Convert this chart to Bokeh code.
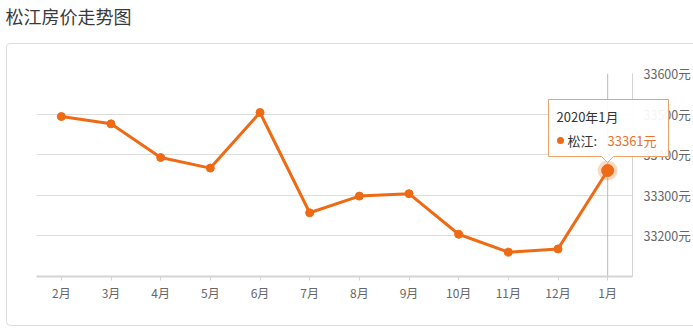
from bokeh.plotting import figure
from bokeh.models import Range1d, LinearAxis, FixedTicker, ColumnDataSource
from bokeh.core.properties import value
from bokeh.embed import file_html
from bokeh.resources import INLINE

title_text = "松江房价走势图"
months = ["2月", "3月", "4月", "5月", "6月", "7月", "8月", "9月", "10月", "11月", "12月", "1月"]
prices = [33494, 33476, 33393, 33367, 33504, 33257, 33298, 33304, 33204, 33160, 33168, 33361]
y_ticks = [33200, 33300, 33400, 33500, 33600]
y_tick_labels = ["33200元", "33300元", "33400元", "33500元", "33600元"]
series_name = "松江"
tip_title = "2020年1月"
tip_value = "33361元"

FONT = "Noto Sans CJK SC"
ORANGE = "#ee6a14"

W, H = 693, 330
FL, FR, FT, FB = 36, 632, 73, 276          # frame box in canvas pixels
XR = (-0.5, len(months) - 0.5)
YR = (33100, 33600)

idx = list(range(len(months)))

p = figure(width=W, height=H, output_backend="svg", toolbar_location=None,
           x_range=Range1d(*XR), y_range=Range1d(*YR),
           min_border_left=FL, min_border_right=W - FR, min_border_top=FT, min_border_bottom=H - FB,
           y_axis_location=None)
p.outline_line_color = None
p.background_fill_color = "white"
p.border_fill_color = "white"

# helpers: canvas pixel -> data (for decorations outside the data area)
def dx(px):
    return XR[0] + (px - FL) / (FR - FL) * (XR[1] - XR[0])

def dy(py):
    return YR[0] + (FB - py) / (FB - FT) * (YR[1] - YR[0])

p.xgrid.grid_line_color = None
p.ygrid.grid_line_color = "#dddddd"
p.ygrid.ticker = FixedTicker(ticks=y_ticks)

xa = p.xaxis[0]
xa.ticker = FixedTicker(ticks=idx)
xa.major_label_overrides = {i: m for i, m in zip(idx, months)}
xa.axis_line_color = "#d4d4d4"
xa.axis_line_width = 2
xa.major_tick_line_color = "#d4d4d4"
xa.major_tick_in = 0
xa.major_tick_out = 4
xa.minor_tick_line_color = None
xa.major_label_text_color = "#666666"
xa.major_label_text_font = FONT
xa.major_label_text_font_size = "12px"
xa.major_label_standoff = 3

ya = LinearAxis(ticker=FixedTicker(ticks=y_ticks),
                major_label_overrides={t: l for t, l in zip(y_ticks, y_tick_labels)})
ya.axis_line_color = "#d4d4d4"
ya.major_tick_line_color = None
ya.minor_tick_line_color = None
ya.major_label_text_color = "#666666"
ya.major_label_text_font = FONT
ya.major_label_text_font_size = "12.5px"
ya.major_label_standoff = 5
p.add_layout(ya, "right")

# title
p.text([dx(5)], [dy(15)], text=[title_text], text_font=value(FONT), level="overlay",
       text_font_size="18px", text_color="#3a3a3a", text_baseline="middle", text_align="left")

# card border (right edge runs past the picture)
p.quad(left=[dx(6)], right=[dx(700)], top=[dy(43)], bottom=[dy(325)],
       fill_alpha=0, line_color="#dcdcdc", line_width=1, border_radius=4, level="overlay")

# crosshair at last category
p.segment(x0=[idx[-1]], y0=[YR[0]], x1=[idx[-1]], y1=[YR[1]], line_color="#bbbbbb", line_width=1)

src = ColumnDataSource(dict(x=idx, y=prices))
p.line("x", "y", source=src, line_color=ORANGE, line_width=3)
p.scatter("x", "y", source=src, size=8, fill_color=ORANGE, line_color=ORANGE)

# highlighted last point
p.scatter([idx[-1]], [prices[-1]], size=20, fill_color=ORANGE, fill_alpha=0.25, line_color=None)
p.scatter([idx[-1]], [prices[-1]], size=12, fill_color=ORANGE, line_color=ORANGE)

# tooltip
tx = [548, 668, 668, 613, 607, 601, 548]
ty = [99, 99, 156, 156, 162, 156, 156]
p.patch([dx(v) for v in tx], [dy(v) for v in ty], fill_color="white", fill_alpha=0.92,
        line_color="#f0a266", line_width=1, level="overlay")
p.text([dx(556)], [dy(116)], text=[tip_title], text_font=value(FONT), level="overlay",
       text_font_size="13px", text_color="#333333", text_baseline="middle")
p.scatter([dx(560)], [dy(140)], size=7, fill_color=ORANGE, line_color=None, level="overlay")
p.text([dx(567)], [dy(140)], text=[series_name + ":"], text_font=value(FONT), level="overlay",
       text_font_size="13px", text_color="#333333", text_baseline="middle")
p.text([dx(607)], [dy(140)], text=[tip_value], text_font=value(FONT), level="overlay",
       text_font_size="13px", text_color="#e8732e", text_baseline="middle")

open("out.html", "w").write(file_html(p, INLINE))
